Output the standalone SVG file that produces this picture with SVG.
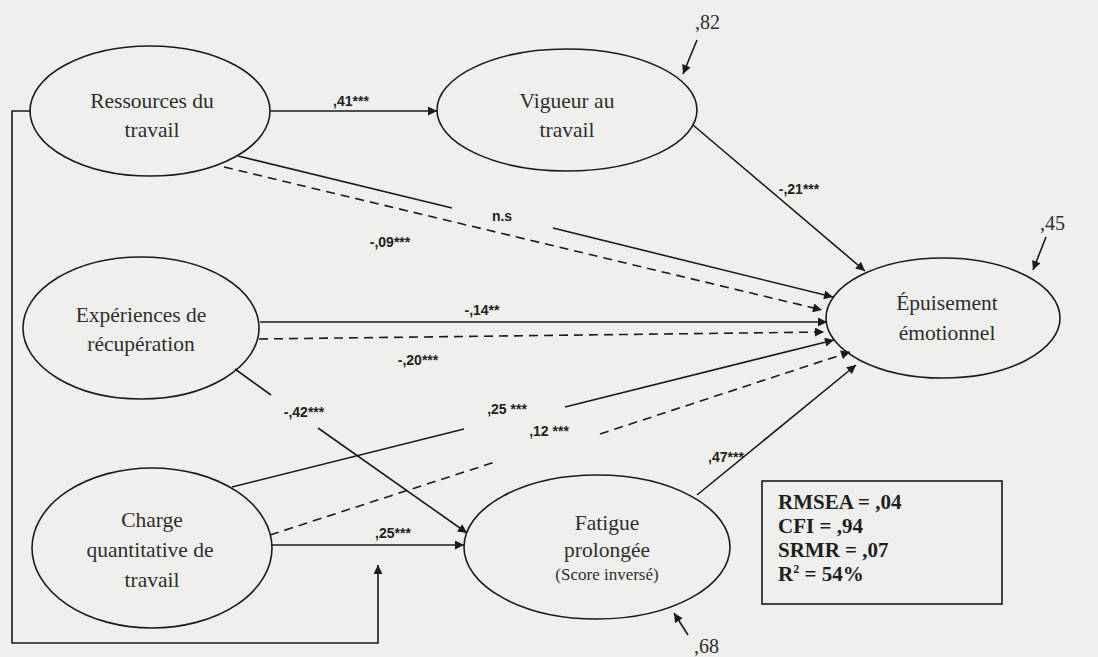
<svg xmlns="http://www.w3.org/2000/svg" width="1098" height="657" viewBox="0 0 1098 657">
  <defs>
    <marker id="arrow" viewBox="0 0 10 10" refX="10" refY="5" markerWidth="11" markerHeight="9" markerUnits="userSpaceOnUse" orient="auto">
      <path d="M0,0 L10,5 L0,10 z" fill="#1a1a1a"/>
    </marker>
    <style>
      .node ellipse { fill: none; stroke: #1a1a1a; stroke-width: 1.6; }
      .node text { font-family: 'Liberation Serif', 'Times New Roman', serif; font-size: 21.5px; fill: #2e2e2e; text-anchor: middle; }
      .node text.small { font-size: 17px; }
      .edge { fill: none; stroke: #1a1a1a; stroke-width: 1.6; }
      .dash { stroke-dasharray: 9 6; }
      .lbl { font-family: 'Liberation Sans', Arial, sans-serif; font-weight: bold; font-size: 14px; fill: #222; text-anchor: middle; }
      .res { font-family: 'Liberation Serif', 'Times New Roman', serif; font-size: 20px; fill: #2e2e2e; }
      .fit { font-family: 'Liberation Serif', 'Times New Roman', serif; font-weight: bold; font-size: 21px; fill: #1e1e1e; }
    </style>
  </defs>

  <rect width="1098" height="657" fill="#efefed"/>

  <!-- connectors -->
  <g id="connectors">
    <line class="edge" x1="270" y1="111" x2="437" y2="111" marker-end="url(#arrow)"/>
    <line class="edge" x1="238" y1="156" x2="452" y2="208"/>
    <line class="edge" x1="553" y1="228" x2="833" y2="297" marker-end="url(#arrow)"/>
    <line class="edge dash" x1="224" y1="167" x2="822" y2="310" marker-end="url(#arrow)"/>
    <line class="edge" x1="693" y1="125" x2="865" y2="271" marker-end="url(#arrow)"/>
    <line class="edge" x1="260" y1="322" x2="827" y2="322" marker-end="url(#arrow)"/>
    <line class="edge dash" x1="259" y1="339" x2="824" y2="332" marker-end="url(#arrow)"/>
    <line class="edge" x1="235" y1="369" x2="271" y2="395"/>
    <line class="edge" x1="318" y1="428" x2="467" y2="533" marker-end="url(#arrow)"/>
    <line class="edge" x1="232" y1="487" x2="464" y2="429"/>
    <line class="edge" x1="565" y1="407" x2="834" y2="340" marker-end="url(#arrow)"/>
    <line class="edge dash" x1="270" y1="535" x2="495" y2="462"/>
    <line class="edge dash" x1="600" y1="434" x2="850" y2="352" marker-end="url(#arrow)"/>
    <line class="edge" x1="272" y1="545" x2="464" y2="545" marker-end="url(#arrow)"/>
    <line class="edge" x1="697" y1="495" x2="856" y2="365" marker-end="url(#arrow)"/>
    <polyline class="edge" points="31,111 12,111 12,643 378,643 378,565" marker-end="url(#arrow)"/>

    <!-- residual terms -->
    <line class="edge" x1="697" y1="40" x2="683" y2="74" marker-end="url(#arrow)"/>
    <line class="edge" x1="1046" y1="237" x2="1033" y2="270" marker-end="url(#arrow)"/>
    <line class="edge" x1="688" y1="635" x2="674" y2="613" marker-end="url(#arrow)"/>

    <!-- path coefficients -->
    <text class="lbl" x="351" y="106">,41***</text>
    <text class="lbl" x="502" y="221">n.s</text>
    <text class="lbl" x="390" y="247">-,09***</text>
    <text class="lbl" x="799" y="194">-,21***</text>
    <text class="lbl" x="482" y="315">-,14**</text>
    <text class="lbl" x="418" y="365">-,20***</text>
    <text class="lbl" x="304" y="417">-,42***</text>
    <text class="lbl" x="507" y="414">,25 ***</text>
    <text class="lbl" x="549" y="436">,12 ***</text>
    <text class="lbl" x="393" y="538">,25***</text>
    <text class="lbl" x="726" y="462">,47***</text>

    <text class="res" x="695" y="29">,82</text>
    <text class="res" x="1040" y="230">,45</text>
    <text class="res" x="694" y="653">,68</text>
  </g>

  <g id="ressources" class="node">
    <ellipse cx="150" cy="111" rx="120" ry="65"/>
    <text x="152" y="108">Ressources du</text>
    <text x="152" y="137">travail</text>
  </g>

  <g id="vigueur" class="node">
    <ellipse cx="567" cy="110" rx="130" ry="61"/>
    <text x="567" y="108">Vigueur au</text>
    <text x="567" y="137">travail</text>
  </g>

  <g id="experiences" class="node">
    <ellipse cx="141" cy="328" rx="118" ry="71"/>
    <text x="141" y="322">Expériences de</text>
    <text x="141" y="351">récupération</text>
  </g>

  <g id="charge" class="node">
    <ellipse cx="152" cy="548" rx="120" ry="80"/>
    <text x="152" y="527">Charge</text>
    <text x="150" y="557">quantitative de</text>
    <text x="152" y="587">travail</text>
  </g>

  <g id="fatigue" class="node">
    <ellipse cx="597" cy="547" rx="133" ry="72"/>
    <text x="607" y="530">Fatigue</text>
    <text x="607" y="557">prolongée</text>
    <text class="small" x="607" y="580">(Score inversé)</text>
  </g>

  <g id="epuisement" class="node">
    <ellipse cx="943" cy="318" rx="117" ry="60"/>
    <text x="947" y="310">Épuisement</text>
    <text x="947" y="340">émotionnel</text>
  </g>

  <g id="fit-indices">
    <rect x="762" y="481" width="240" height="123" fill="none" stroke="#1a1a1a" stroke-width="1.6"/>
    <text class="fit" x="778" y="509">RMSEA = ,04</text>
    <text class="fit" x="778" y="533">CFI = ,94</text>
    <text class="fit" x="778" y="557">SRMR = ,07</text>
    <text class="fit" x="778" y="581">R<tspan font-size="12" dy="-8">2</tspan><tspan dy="8"> = 54%</tspan></text>
  </g>
</svg>
